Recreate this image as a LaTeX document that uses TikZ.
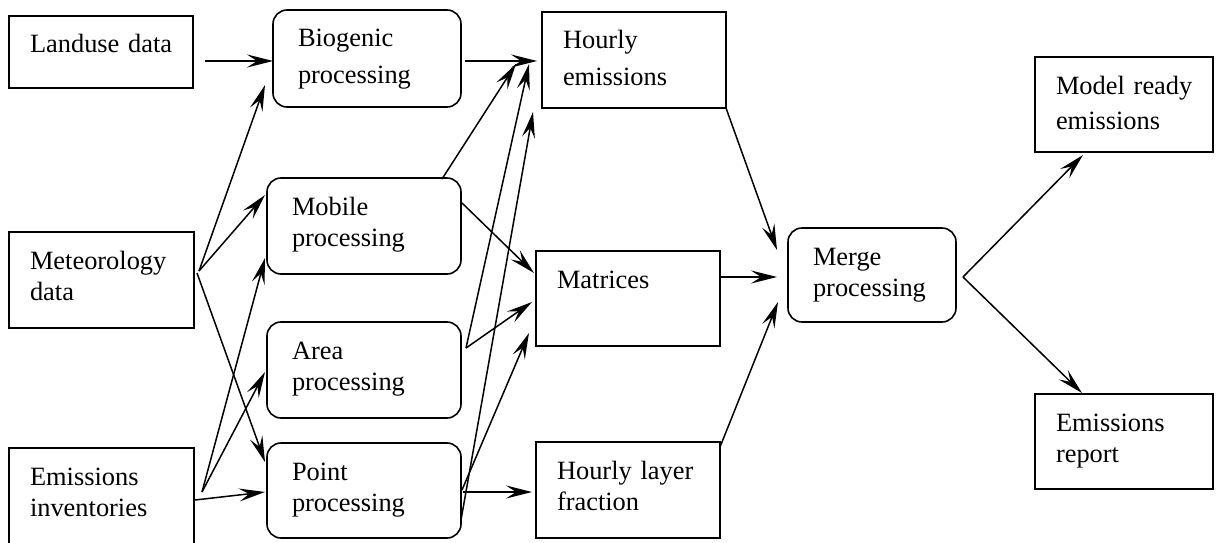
\documentclass[tikz,border=0pt]{standalone}
\usepackage{fontspec}
\setmainfont{Liberation Serif}
\usetikzlibrary{arrows.meta}
\tikzset{
  base/.style={draw, line width=1.6pt, anchor=north west, outer sep=0pt,
    inner ysep=0pt, align=left, text height=37pt,
    font=\fontsize{26.4}{31.5}\selectfont},
  rbox/.style={base, inner xsep=21pt},
  rrbox/.style={base, rounded corners=14pt, inner xsep=25pt},
  arr/.style={line width=1.5pt, -{Stealth[length=26pt, width=13pt, inset=10pt]}},
}
\begin{document}
\begin{tikzpicture}[x=1pt, y=-1pt]
\useasboundingbox (0,0) rectangle (1221,543);
% nodes
\node[rbox, text width=142pt, text depth=35pt] (land) at (9,16) {\mbox{Landuse data}};
\node[rrbox, text width=138pt, text depth=60pt] (bio) at (273,10) {Biogenic\\[5pt]processing};
\node[rbox, text width=142pt, text depth=59pt] (hem) at (542,12) {Hourly\\[5pt]emissions};
\node[rrbox, text width=144pt, text depth=59pt] (mob) at (267,178) {Mobile\\processing};
\node[rrbox, text width=144pt, text depth=59pt] (area) at (267,322) {Area\\processing};
\node[rrbox, text width=144pt, text depth=58pt] (pt) at (267,443) {Point\\processing};
\node[rbox, text width=143pt, text depth=59pt] (met) at (9,232) {Meteorology\\data};
\node[rbox, text width=143pt, text depth=61pt] (inv) at (9,448) {Emissions\\inventories};
\node[rbox, text width=142pt, text depth=58pt] (mat) at (536,251) {Matrices};
\node[rbox, text width=142pt, text depth=59pt] (hlf) at (536,442) {\mbox{Hourly layer}\\fraction};
\node[rrbox, text width=118pt, text depth=57pt] (mrg) at (788,228) {Merge\\processing};
\node[rbox, text width=136pt, text depth=58pt] (mod) at (1035,57) {\mbox{Model ready}\\[4pt]emissions};
\node[rbox, text width=136pt, text depth=58pt] (rep) at (1035,394) {Emissions\\report};
% connectors
\draw[arr] ([shift={(196,45)}]land.north west) -- ([shift={(0,51)}]bio.north west);
\draw[arr] ([shift={(192,51)}]bio.north west) -- ([shift={(-5,49)}]hem.north west);
\draw[arr] ([shift={(190,39)}]met.north west) -- ([shift={(-8,75)}]bio.north west);
\draw[arr] ([shift={(190,39)}]met.north west) -- ([shift={(-2,17)}]mob.north west);
\draw[arr] ([shift={(188,41)}]met.north west) -- ([shift={(-2,19)}]pt.north west);
\draw[arr] ([shift={(193,44)}]inv.north west) -- ([shift={(-2,80)}]mob.north west);
\draw[arr] ([shift={(193,44)}]inv.north west) -- ([shift={(-2,50)}]area.north west);
\draw[arr] ([shift={(186,52)}]inv.north west) -- ([shift={(-2,49)}]pt.north west);
\draw[arr] ([shift={(175,1)}]mob.north west) -- ([shift={(-26,52)}]hem.north west);
\draw[arr] ([shift={(195,25)}]mob.north west) -- ([shift={(-2,22)}]mat.north west);
\draw[arr] ([shift={(199,26)}]area.north west) -- ([shift={(-13,52)}]hem.north west);
\draw[arr] ([shift={(199,26)}]area.north west) -- ([shift={(-4,51)}]mat.north west);
\draw[arr] ([shift={(194,77)}]pt.north west) -- ([shift={(-9,100)}]hem.north west);
\draw[arr] ([shift={(195,47)}]pt.north west) -- ([shift={(-7,82)}]mat.north west);
\draw[arr] ([shift={(196,49)}]pt.north west) -- ([shift={(-4,50)}]hlf.north west);
\draw[arr] (hem.south east) -- ([shift={(-11,22)}]mrg.north west);
\draw[arr] ([shift={(184,26)}]mat.north west) -- ([shift={(-11,49)}]mrg.north west);
\draw[arr] ([shift={(184,5)}]hlf.north west) -- ([shift={(-10,74)}]mrg.north west);
\draw[arr] ([shift={(175,49)}]mrg.north west) -- ([shift={(48,98)}]mod.north west);
\draw[arr] ([shift={(175,49)}]mrg.north west) -- ([shift={(47,-1)}]rep.north west);
\end{tikzpicture}
\end{document}
